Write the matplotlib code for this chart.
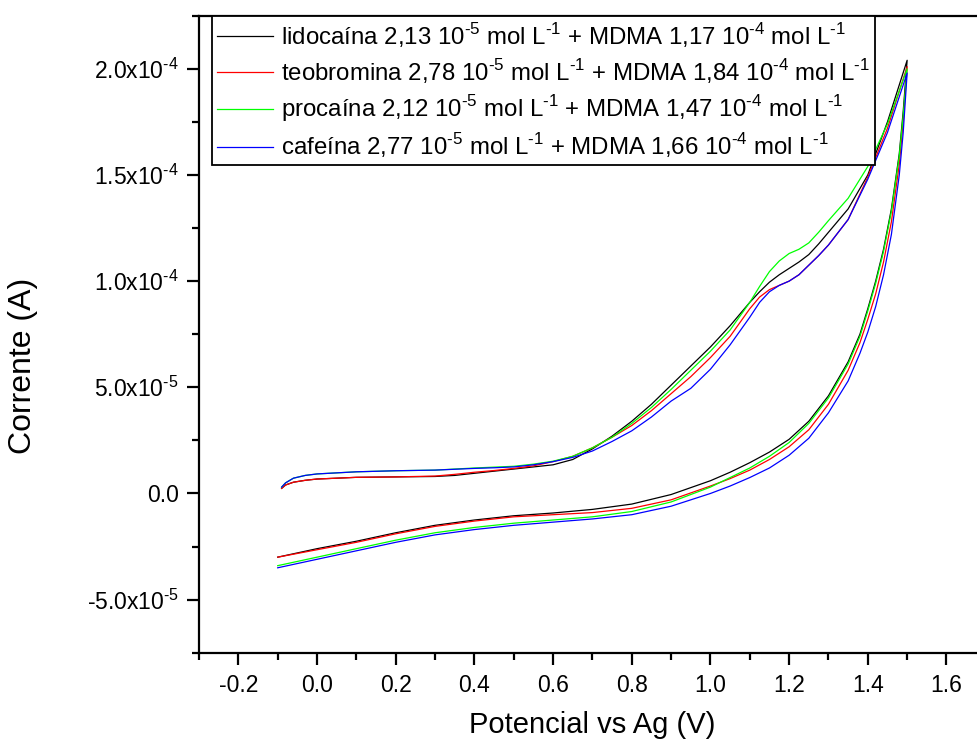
import matplotlib
matplotlib.use("Agg")
from matplotlib import pyplot as plt
from matplotlib.ticker import MultipleLocator, FuncFormatter

plt.rcParams['font.family'] = ['Liberation Sans', 'DejaVu Sans']
plt.rcParams['mathtext.fontset'] = 'custom'
plt.rcParams['mathtext.rm'] = 'Liberation Sans'

# upper branch (V, current in 1e-5 A)
up_x = [-0.09, -0.08, -0.06, -0.03, 0.0, 0.1, 0.2, 0.3, 0.35, 0.4, 0.45, 0.5, 0.55, 0.6, 0.65,
        0.7, 0.75, 0.8, 0.85, 0.9, 0.95, 1.0, 1.05, 1.1, 1.125, 1.15, 1.175, 1.2, 1.225, 1.25,
        1.275, 1.3, 1.35, 1.4, 1.45, 1.5]
lido_up = [0.24, 0.4, 0.53, 0.62, 0.68, 0.76, 0.78, 0.8, 0.85, 0.95, 1.05, 1.15, 1.25, 1.35, 1.6,
           2.1, 2.7, 3.4, 4.2, 5.1, 6.0, 6.9, 7.9, 9.0, 9.5, 9.95, 10.3, 10.6, 10.9, 11.25,
           11.75, 12.3, 13.4, 15.0, 17.5, 20.4]
teob_up = [0.24, 0.4, 0.53, 0.62, 0.68, 0.76, 0.78, 0.82, 0.9, 1.0, 1.08, 1.18, 1.3, 1.5, 1.75,
           2.15, 2.65, 3.2, 3.9, 4.7, 5.5, 6.4, 7.4, 8.7, 9.25, 9.6, 9.8, 10.0, 10.3, 10.75,
           11.2, 11.7, 12.9, 14.9, 17.2, 20.1]
proc_up = [0.3, 0.5, 0.72, 0.85, 0.92, 1.02, 1.07, 1.1, 1.15, 1.2, 1.24, 1.28, 1.38, 1.52, 1.75,
           2.15, 2.65, 3.3, 4.05, 4.9, 5.8, 6.7, 7.7, 9.0, 9.75, 10.45, 10.95, 11.3, 11.5, 11.8,
           12.3, 12.85, 13.9, 15.4, 17.4, 20.0]
cafe_up = [0.3, 0.5, 0.72, 0.85, 0.92, 1.02, 1.07, 1.1, 1.14, 1.18, 1.21, 1.25, 1.35, 1.5, 1.7,
           2.0, 2.45, 2.95, 3.6, 4.35, 4.95, 5.85, 7.0, 8.3, 9.0, 9.5, 9.8, 10.0, 10.3, 10.75,
           11.2, 11.7, 12.9, 14.8, 17.0, 19.8]

# lower branch, going back from the vertex
low_x = [1.5, 1.49, 1.48, 1.46, 1.44, 1.42, 1.4, 1.38, 1.35, 1.3, 1.25, 1.2, 1.15, 1.1, 1.05,
         1.0, 0.9, 0.8, 0.7, 0.6, 0.5, 0.4, 0.3, 0.2, 0.1, 0.0, -0.1]
lido_low = [20.4, 18.0, 16.0, 13.4, 11.5, 10.0, 8.7, 7.5, 6.2, 4.6, 3.4, 2.55, 1.95, 1.45, 1.0,
            0.6, -0.05, -0.5, -0.75, -0.92, -1.05, -1.25, -1.5, -1.85, -2.25, -2.6, -3.0]
teob_low = [20.1, 17.5, 15.5, 12.8, 10.9, 9.4, 8.2, 7.1, 5.8, 4.2, 3.0, 2.2, 1.6, 1.1, 0.7,
            0.35, -0.3, -0.7, -0.9, -1.0, -1.1, -1.3, -1.55, -1.9, -2.3, -2.65, -3.0]
proc_low = [20.0, 17.8, 15.9, 13.3, 11.4, 9.9, 8.6, 7.4, 6.1, 4.5, 3.3, 2.4, 1.75, 1.2, 0.75,
            0.3, -0.4, -0.85, -1.1, -1.25, -1.4, -1.6, -1.85, -2.2, -2.6, -3.0, -3.4]
cafe_low = [19.8, 17.0, 15.0, 12.2, 10.3, 8.8, 7.6, 6.6, 5.3, 3.8, 2.6, 1.8, 1.2, 0.75, 0.35,
            0.0, -0.6, -1.0, -1.2, -1.35, -1.5, -1.7, -1.95, -2.3, -2.7, -3.1, -3.5]

drugs = ['lidocaína 2,13', 'teobromina 2,78', 'procaína 2,12', 'cafeína 2,77']
mdma = ['1,17', '1,84', '1,47', '1,66']
colors = ['#000000', '#ff0000', '#00ff00', '#0000ff']
series = [(lido_up, lido_low), (teob_up, teob_low), (proc_up, proc_low), (cafe_up, cafe_low)]


def sup(s):
    return r'$^{\text{' + s + '}}$'


labels = [f'{d} 10{sup("-5")} mol L{sup("-1")} + MDMA {m} 10{sup("-4")} mol L{sup("-1")}'
          for d, m in zip(drugs, mdma)]

fig = plt.figure(figsize=(9.78, 7.47), dpi=100)
ax = fig.add_axes([0.2035, 0.1262, 0.8045, 0.8528])

for (up, low), c, lab in zip(series, colors, labels):
    xs = up_x + low_x
    ys = [v * 1e-5 for v in up + low]
    ax.plot(xs, ys, color=c, lw=0.9, label=lab)

ax.set_xlim(-0.3, 1.7)
ax.set_ylim(-7.5e-5, 2.25e-4)
ax.xaxis.set_major_locator(MultipleLocator(0.2))
ax.xaxis.set_minor_locator(MultipleLocator(0.1))
ax.yaxis.set_major_locator(MultipleLocator(5e-5))
ax.yaxis.set_minor_locator(MultipleLocator(2.5e-5))


def yfmt(v, pos):
    if abs(v) < 1e-12:
        return '0.0'
    e = int(f'{v:.1e}'.split('e')[1])
    m = v / 10 ** e
    return '%.1fx10' % m + sup(str(e))


ax.yaxis.set_major_formatter(FuncFormatter(yfmt))
ax.xaxis.set_major_formatter(FuncFormatter(lambda v, p: f'{v:.1f}'))

for s in ['left', 'bottom', 'top']:
    ax.spines[s].set_linewidth(1.6)
ax.spines['right'].set_visible(False)
ax.tick_params(which='major', direction='out', length=8.5, width=1.6, labelsize=16.5)
ax.tick_params(which='minor', direction='out', length=5, width=1.6)
ax.tick_params(axis='x', which='major', pad=7)
ax.tick_params(axis='y', which='major', pad=6)

ax.set_xlabel('Potencial vs Ag (V)', fontsize=21, labelpad=10)
ax.set_ylabel('Corrente (A)', fontsize=23)
ax.yaxis.set_label_coords(-0.205, 0.45)

leg = ax.legend(loc='upper left', bbox_to_anchor=(0.0165, 1.0), borderaxespad=0,
                fontsize=17.3, fancybox=False, edgecolor='k', framealpha=1,
                handlelength=2.3, handletextpad=0.35, borderpad=0.22, labelspacing=0.3)
leg.get_frame().set_linewidth(1.3)

fig.savefig('out.png', dpi=100)
